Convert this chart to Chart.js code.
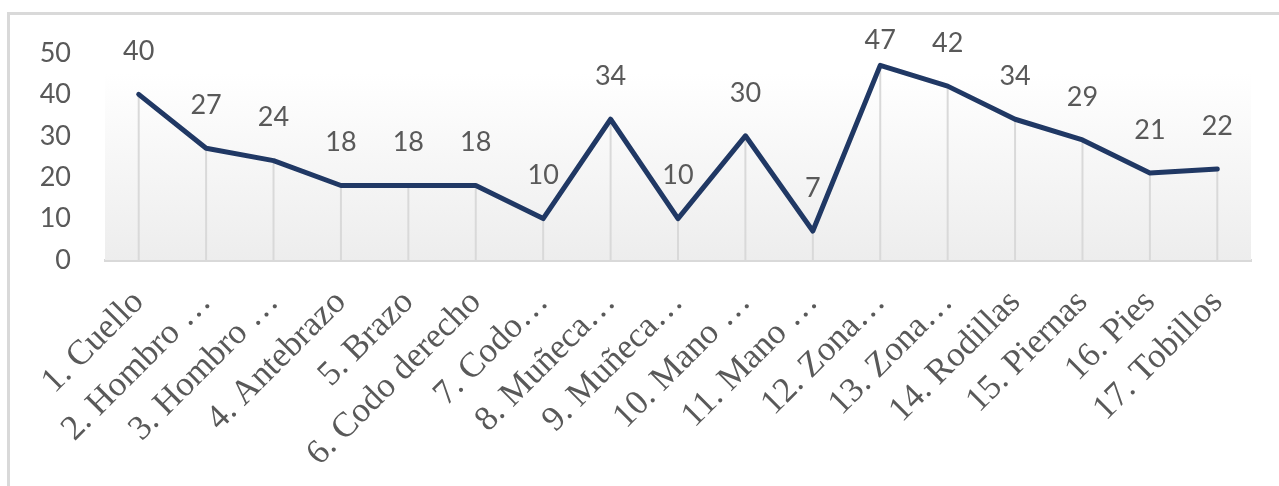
<!DOCTYPE html>
<html>
<head>
<meta charset="utf-8">
<script src="https://cdn.jsdelivr.net/npm/chart.js@4"></script>
<style>
  body { margin:0; background:#fff; }
  #frame { position:absolute; left:7px; top:12px; width:1272px; height:474px; border-left:3px solid #d9d9d9; border-top:3px solid #d9d9d9; }
  #c { position:absolute; left:0; top:0; }
</style>
</head>
<body>
<div id="frame"></div>
<canvas id="c" width="1279" height="486"></canvas>
<script>
// data
const categories = ["1. Cuello", "2. Hombro …", "3. Hombro …", "4. Antebrazo", "5. Brazo", "6. Codo derecho",
  "7. Codo…", "8. Muñeca…", "9. Muñeca…", "10. Mano …", "11. Mano …", "12. Zona…", "13. Zona…",
  "14. Rodillas", "15. Piernas", "16. Pies", "17. Tobillos"];
const values = [40, 27, 24, 18, 18, 18, 10, 34, 10, 30, 7, 47, 42, 34, 29, 21, 22];
const yTicks = [0, 10, 20, 30, 40, 50];

const grey = '#595959';

// plot area gradient + drop lines under the line
const backPlugin = {
  id: 'back',
  beforeDatasetsDraw(chart) {
    const {ctx, chartArea} = chart;
    ctx.save();
    let g = ctx.createLinearGradient(0, chartArea.top + 20, 0, chartArea.bottom);
    g.addColorStop(0, '#ffffff');
    g.addColorStop(1, '#ededed');
    ctx.fillStyle = g;
    ctx.fillRect(chartArea.left, chartArea.top + 20, chartArea.right - chartArea.left, chartArea.bottom - chartArea.top - 20);
    const meta = chart.getDatasetMeta(0);
    ctx.strokeStyle = '#d9d9d9';
    ctx.lineWidth = 2;
    meta.data.forEach(p => {
      ctx.beginPath();
      ctx.moveTo(p.x, p.y);
      ctx.lineTo(p.x, chartArea.bottom);
      ctx.stroke();
    });
    ctx.restore();
  }
};

// value labels above each point (kept inside the top like excel does)
const labelPlugin = {
  id: 'vals',
  afterDatasetsDraw(chart) {
    const ctx = chart.ctx;
    const meta = chart.getDatasetMeta(0);
    ctx.save();
    ctx.font = '27px Lato';
    ctx.fillStyle = grey;
    ctx.textAlign = 'center';
    ctx.textBaseline = 'middle';
    meta.data.forEach((p, i) => {
      ctx.fillText(values[i], p.x, Math.max(p.y - 43, 40));
    });
    ctx.restore();
  }
};

new Chart(document.getElementById('c'), {
  type: 'line',
  data: {
    labels: categories,
    datasets: [{
      data: values,
      borderColor: '#203864',
      borderWidth: 5,
      pointRadius: 0,
      tension: 0,
      borderCapStyle: 'round',
      borderJoinStyle: 'round'
    }]
  },
  options: {
    responsive: false,
    animation: false,
    devicePixelRatio: 1,
    layout: { padding: { top: 53, right: 28, bottom: 0, left: 0 } },
    plugins: { legend: { display: false }, tooltip: { enabled: false } },
    scales: {
      x: {
        offset: true,
        grid: { display: false, drawTicks: false },
        border: { display: true, color: '#d9d9d9', width: 3 },
        ticks: {
          color: grey,
          font: { family: 'Liberation Serif', size: 35 },
          minRotation: 45, maxRotation: 45,
          autoSkip: false,
          padding: 22
        },
        afterFit(s) { s.height = 226; }
      },
      y: {
        min: 0, max: 50,
        grid: { display: false, drawTicks: false },
        border: { display: false },
        afterBuildTicks(s) { s.ticks = yTicks.map(v => ({value: v})); },
        ticks: {
          color: grey,
          font: { family: 'Lato', size: 27 },
          padding: 34
        },
        afterFit(s) { s.width = 105; }
      }
    }
  },
  plugins: [backPlugin, labelPlugin]
});
</script>
</body>
</html>
